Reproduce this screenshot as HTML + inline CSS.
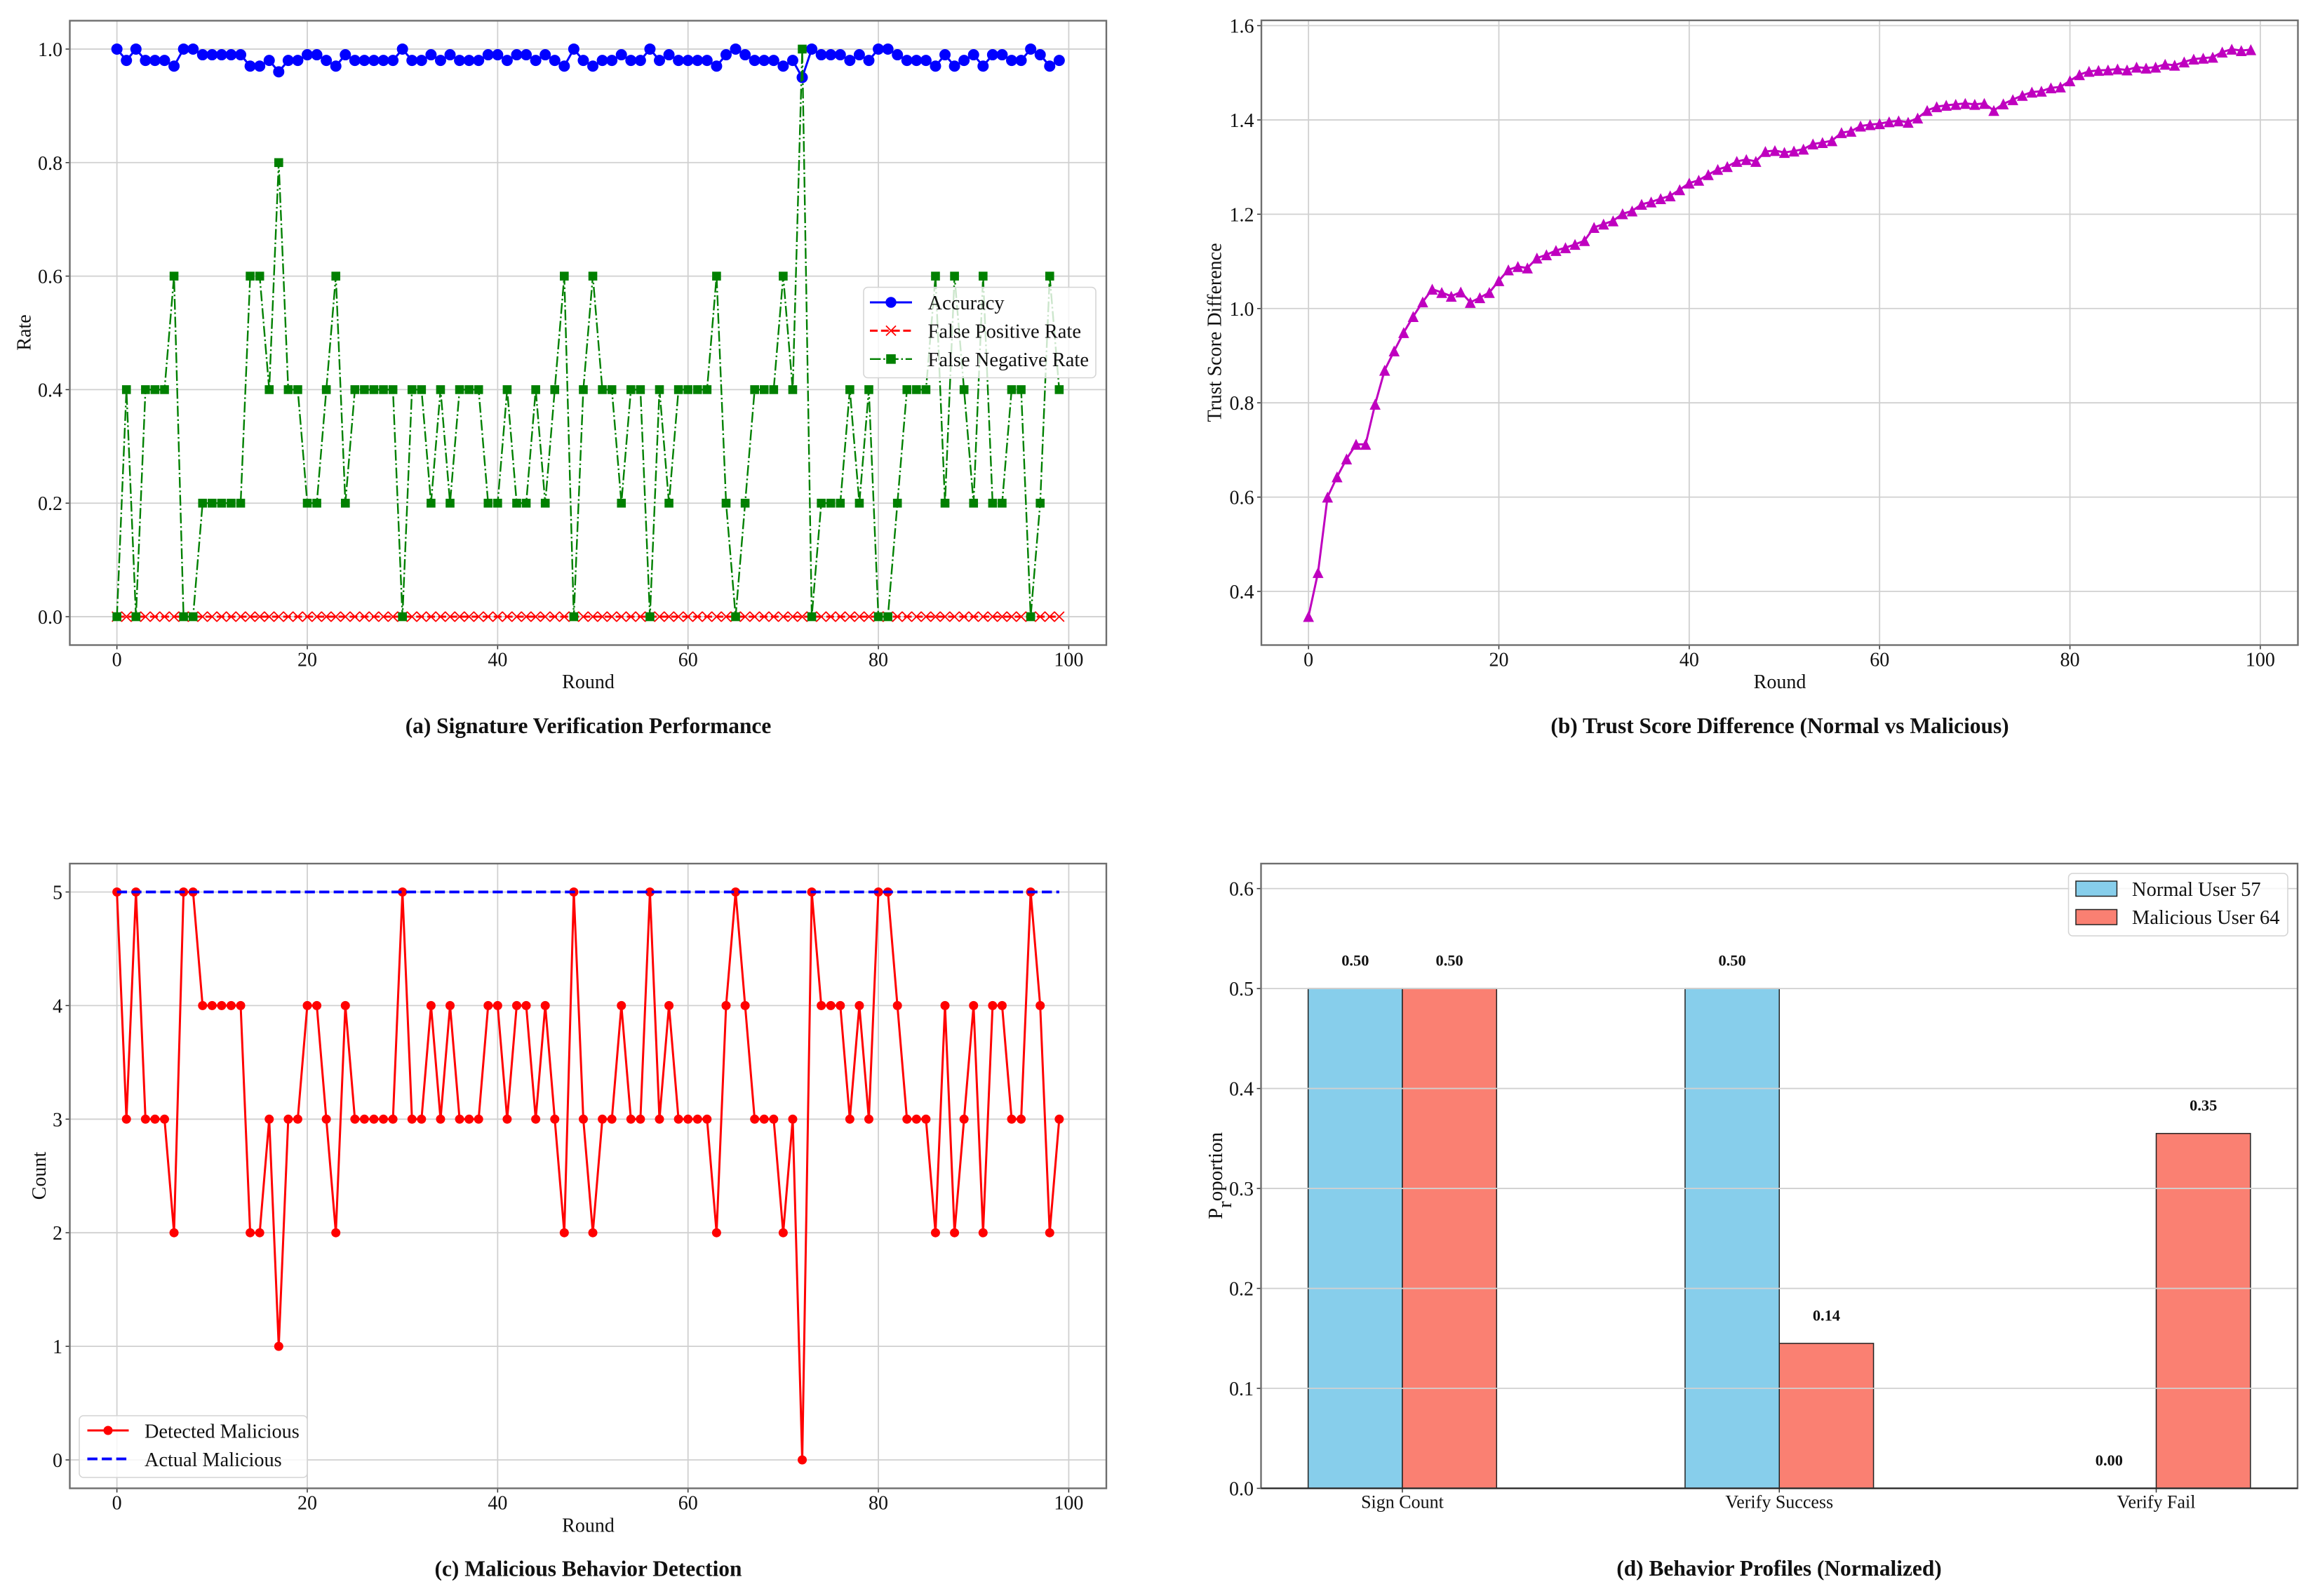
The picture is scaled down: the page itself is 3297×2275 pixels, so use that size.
<!DOCTYPE html>
<html lang="en">
<head>
<meta charset="utf-8">
<title>Signature verification and behavior charts</title>
<style>
html,body{margin:0;padding:0;background:#fff;}
svg{display:block;}
text{font-family:"Liberation Serif","Times New Roman",serif;fill:#111;}
.tick{font-size:28px;}
.lab{font-size:28px;}
.ttl{font-size:31.4px;font-weight:bold;}
.leg{font-size:28.5px;}
</style>
</head>
<body>
<svg id="fig" xmlns="http://www.w3.org/2000/svg" width="3297" height="2275" viewBox="0 0 3297 2275">
  <rect x="0" y="0" width="3297" height="2275" fill="#ffffff"/>
  <g id="panel-a"></g>
  <g id="panel-b"></g>
  <g id="panel-c"></g>
  <g id="panel-d"></g>

  <text class="lab" x="838.5" y="981" text-anchor="middle">Round</text>
  <text class="lab" text-anchor="middle" transform="translate(43.5,474) rotate(-90)">Rate</text>
  <text class="ttl" x="838.5" y="1045" text-anchor="middle">(a) Signature Verification Performance</text>

  <text class="lab" x="2537" y="981" text-anchor="middle">Round</text>
  <text class="lab" text-anchor="middle" transform="translate(1740.5,474) rotate(-90)">Trust Score Difference</text>
  <text class="ttl" x="2537" y="1045" text-anchor="middle">(b) Trust Score Difference (Normal vs Malicious)</text>

  <text class="lab" x="838.5" y="2183.5" text-anchor="middle">Round</text>
  <text class="lab" text-anchor="middle" transform="translate(65,1676) rotate(-90)">Count</text>
  <text class="ttl" x="838.5" y="2246.5" text-anchor="middle">(c) Malicious Behavior Detection</text>

  <text font-size="29" transform="translate(1742,1738) rotate(-90)">P<tspan dy="13">r</tspan><tspan dy="-13">oportion</tspan></text>
  <text class="ttl" x="2536" y="2246" text-anchor="middle">(d) Behavior Profiles (Normalized)</text>

  <g>
    <rect x="1231" y="409.5" width="331" height="129" rx="6" fill="#ffffff" fill-opacity="0.8" stroke="#d4d4d4" stroke-width="1.5"/>
    <g>
      <line x1="1240" y1="431" x2="1300" y2="431" stroke="#0000ff" stroke-width="3"/>
      <circle cx="1270" cy="431" r="7.7" fill="#0000ff"/>
      <text class="leg" x="1322.5" y="441">Accuracy</text>
    </g>
    <g>
      <line x1="1240" y1="471.4" x2="1300" y2="471.4" stroke="#ff0000" stroke-width="3" stroke-dasharray="11 4.8"/>
      <path d="M1263 464.4L1277 478.4M1263 478.4L1277 464.4" stroke="#ff0000" stroke-width="1.8" fill="none"/>
      <text class="leg" x="1322.5" y="481.5">False Positive Rate</text>
    </g>
    <g>
      <line x1="1240" y1="511.8" x2="1300" y2="511.8" stroke="#008000" stroke-width="2.4" stroke-dasharray="15.4 3.8 2.4 3.8"/>
      <rect x="1263.2" y="505" width="13.6" height="13.6" fill="#008000"/>
      <text class="leg" x="1322.5" y="522">False Negative Rate</text>
    </g>
  </g>

  <g>
    <rect x="113" y="2018" width="325" height="88" rx="6" fill="#ffffff" fill-opacity="0.8" stroke="#d4d4d4" stroke-width="1.5"/>
    <g>
      <line x1="124.5" y1="2039" x2="183.5" y2="2039" stroke="#ff0000" stroke-width="3"/>
      <circle cx="154" cy="2039" r="6.5" fill="#ff0000"/>
      <text font-size="28.3" x="206" y="2049.5">Detected Malicious</text>
    </g>
    <g>
      <line x1="124.5" y1="2079.6" x2="183.5" y2="2079.6" stroke="#0000ff" stroke-width="3.9" stroke-dasharray="14.4 6.2"/>
      <text font-size="28.3" x="206" y="2090">Actual Malicious</text>
    </g>
  </g>

  <g>
    <rect x="2948.5" y="1245" width="312.5" height="89" rx="6" fill="#ffffff" fill-opacity="0.8" stroke="#d4d4d4" stroke-width="1.5"/>
    <g>
      <rect x="2959" y="1256" width="58.5" height="21.5" fill="#87ceeb" stroke="#222" stroke-width="1.5"/>
      <text x="3039" y="1277" font-size="28.5">Normal User 57</text>
    </g>
    <g>
      <rect x="2959" y="1296.5" width="58.5" height="21.5" fill="#fa8072" stroke="#222" stroke-width="1.5"/>
      <text x="3039" y="1317" font-size="28.5">Malicious User 64</text>
    </g>
  </g>
</svg>
<script>
// ---- data ----
const accuracy = [1,.98,1,.98,.98,.98,.97,1,1,.99,.99,.99,.99,.99,.97,.97,.98,.96,.98,.98,
  .99,.99,.98,.97,.99,.98,.98,.98,.98,.98,1,.98,.98,.99,.98,.99,.98,.98,.98,.99,
  .99,.98,.99,.99,.98,.99,.98,.97,1,.98,.97,.98,.98,.99,.98,.98,1,.98,.99,.98,
  .98,.98,.98,.97,.99,1,.99,.98,.98,.98,.97,.98,.95,1,.99,.99,.99,.98,.99,.98,
  1,1,.99,.98,.98,.98,.97,.99,.97,.98,.99,.97,.99,.99,.98,.98,1,.99,.97,.98];
const falsePositive = [0,0,0,0,0,0,0,0,0,0,0,0,0,0,0,0,0,0,0,0,
  0,0,0,0,0,0,0,0,0,0,0,0,0,0,0,0,0,0,0,0,
  0,0,0,0,0,0,0,0,0,0,0,0,0,0,0,0,0,0,0,0,
  0,0,0,0,0,0,0,0,0,0,0,0,0,0,0,0,0,0,0,0,
  0,0,0,0,0,0,0,0,0,0,0,0,0,0,0,0,0,0,0,0];
const falseNegative = [0,.4,0,.4,.4,.4,.6,0,0,.2,.2,.2,.2,.2,.6,.6,.4,.8,.4,.4,
  .2,.2,.4,.6,.2,.4,.4,.4,.4,.4,0,.4,.4,.2,.4,.2,.4,.4,.4,.2,
  .2,.4,.2,.2,.4,.2,.4,.6,0,.4,.6,.4,.4,.2,.4,.4,0,.4,.2,.4,
  .4,.4,.4,.6,.2,0,.2,.4,.4,.4,.6,.4,1,0,.2,.2,.2,.4,.2,.4,
  0,0,.2,.4,.4,.4,.6,.2,.6,.4,.2,.6,.2,.2,.4,.4,0,.2,.6,.4];
const trustDiff = [.347,.44,.6,.643,.681,.712,.712,.797,.869,.91,.949,.983,1.014,1.041,1.034,1.026,1.035,1.013,1.023,1.034,
  1.059,1.082,1.089,1.086,1.107,1.114,1.123,1.129,1.136,1.144,1.172,1.179,1.186,1.201,1.207,1.221,1.226,1.233,1.239,1.252,
  1.266,1.272,1.284,1.295,1.301,1.312,1.316,1.312,1.333,1.335,1.331,1.334,1.338,1.349,1.352,1.356,1.373,1.376,1.387,1.39,
  1.392,1.396,1.398,1.395,1.404,1.42,1.428,1.431,1.433,1.435,1.433,1.435,1.42,1.434,1.443,1.452,1.459,1.461,1.468,1.47,
  1.483,1.496,1.503,1.505,1.506,1.508,1.506,1.512,1.51,1.512,1.518,1.516,1.523,1.529,1.531,1.533,1.544,1.55,1.547,1.549];
const detected = [5,3,5,3,3,3,2,5,5,4,4,4,4,4,2,2,3,1,3,3,
  4,4,3,2,4,3,3,3,3,3,5,3,3,4,3,4,3,3,3,4,
  4,3,4,4,3,4,3,2,5,3,2,3,3,4,3,3,5,3,4,3,
  3,3,3,2,4,5,4,3,3,3,2,3,0,5,4,4,4,3,4,3,
  5,5,4,3,3,3,2,4,2,3,4,2,4,4,3,3,5,4,2,3];
const actual = [5,5,5,5,5,5,5,5,5,5,5,5,5,5,5,5,5,5,5,5,
  5,5,5,5,5,5,5,5,5,5,5,5,5,5,5,5,5,5,5,5,
  5,5,5,5,5,5,5,5,5,5,5,5,5,5,5,5,5,5,5,5,
  5,5,5,5,5,5,5,5,5,5,5,5,5,5,5,5,5,5,5,5,
  5,5,5,5,5,5,5,5,5,5,5,5,5,5,5,5,5,5,5,5];
const categories = ['Sign Count','Verify Success','Verify Fail'];
const normalProfile = [0.5,0.5,0];
const maliciousProfile = [0.5,0.145,0.355];
const normalLabels = ['0.50','0.50','0.00'];
const maliciousLabels = ['0.50','0.14','0.35'];
const roundTicks = ['0','20','40','60','80','100'];
const rateTicks = ['0.0','0.2','0.4','0.6','0.8','1.0'];
const trustTicks = ['0.4','0.6','0.8','1.0','1.2','1.4','1.6'];
const countTicks = ['0','1','2','3','4','5'];
const proportionTicks = ['0.0','0.1','0.2','0.3','0.4','0.5','0.6'];

const NS = 'http://www.w3.org/2000/svg';
function mk(parent, tag, name, attrs) {
  const el = document.createElementNS(NS, tag);
  
  
  for (const k in attrs) el.setAttribute(k, attrs[k]);
  parent.appendChild(el);
  return el;
}
function linear(d0, d1, r0, r1) {
  return v => r0 + (v - d0) * (r1 - r0) / (d1 - d0);
}
const GRID = '#d0d0d0', SPINE = '#6e6e6e';

function frame(g, box) {
  mk(g, 'rect', 'plot-frame', {x: box.l, y: box.t, width: box.r - box.l, height: box.b - box.t, fill: 'none', stroke: SPINE, 'stroke-width': 2.4});
}
function xAxis(g, box, x, ticks, grid) {
  ticks.forEach(t => {
    const px = x(parseFloat(t));
    if (grid) mk(g, 'line', 'x-gridline-' + t, {x1: px, x2: px, y1: box.t, y2: box.b, stroke: GRID, 'stroke-width': 1.8});
    mk(g, 'line', 'x-tick-' + t, {x1: px, x2: px, y1: box.b, y2: box.b + 6, stroke: '#333', 'stroke-width': 1.5});
    const lab = mk(g, 'text', 'x-tick-label-' + t, {x: px, y: box.b + 30, 'text-anchor': 'middle', class: 'tick'});
    lab.textContent = t;
  });
}
function yAxis(g, box, y, ticks, grid) {
  ticks.forEach(t => {
    const py = y(parseFloat(t));
    if (grid) mk(g, 'line', 'y-gridline-' + t, {x1: box.l, x2: box.r, y1: py, y2: py, stroke: GRID, 'stroke-width': 1.8});
    mk(g, 'line', 'y-tick-' + t, {x1: box.l - 6, x2: box.l, y1: py, y2: py, stroke: '#333', 'stroke-width': 1.5});
    const lab = mk(g, 'text', 'y-tick-label-' + t, {x: box.l - 10.5, y: py + 10, 'text-anchor': 'end', class: 'tick'});
    lab.textContent = t;
  });
}
function seriesLine(g, name, vals, x, y, style) {
  const pts = vals.map((v, i) => x(i).toFixed(2) + ',' + y(v).toFixed(2)).join(' ');
  const attrs = {points: pts, fill: 'none', 'stroke-linejoin': 'round'};
  for (const k in style) attrs[k] = style[k];
  mk(g, 'polyline', name + '-line', attrs);
}
function circles(g, name, vals, x, y, r, color) {
  vals.forEach((v, i) => mk(g, 'circle', name + '-point-' + i, {cx: x(i), cy: y(v), r: r, fill: color}));
}
function squares(g, name, vals, x, y, s, color) {
  vals.forEach((v, i) => mk(g, 'rect', name + '-point-' + i, {x: x(i) - s / 2, y: y(v) - s / 2, width: s, height: s, fill: color}));
}
function crosses(g, name, vals, x, y, h, color) {
  vals.forEach((v, i) => {
    const cx = x(i), cy = y(v);
    mk(g, 'path', name + '-point-' + i, {d: `M${cx - h} ${cy - h}L${cx + h} ${cy + h}M${cx - h} ${cy + h}L${cx + h} ${cy - h}`, stroke: color, 'stroke-width': 1.8, fill: 'none'});
  });
}
function triangles(g, name, vals, x, y, h, color) {
  vals.forEach((v, i) => {
    const cx = x(i), cy = y(v);
    mk(g, 'path', name + '-point-' + i, {d: `M${cx} ${cy - h}L${cx - h} ${cy + h}L${cx + h} ${cy + h}Z`, fill: color});
  });
}

// ---- panel a ----
(function () {
  const g = document.getElementById('panel-a');
  const box = {l: 99.5, r: 1577, t: 29.5, b: 919.5};
  const x = linear(-4.95, 103.95, box.l, box.r);
  const y = linear(-0.05, 1.05, box.b, box.t);
  xAxis(g, box, x, roundTicks, true);
  yAxis(g, box, y, rateTicks, true);
  seriesLine(g, 'accuracy', accuracy, x, y, {stroke: '#0000ff', 'stroke-width': 3});
  circles(g, 'accuracy', accuracy, x, y, 8, '#0000ff');
  seriesLine(g, 'false-positive', falsePositive, x, y, {stroke: '#ff0000', 'stroke-width': 3, 'stroke-dasharray': '11 4.8'});
  crosses(g, 'false-positive', falsePositive, x, y, 7, '#ff0000');
  seriesLine(g, 'false-negative', falseNegative, x, y, {stroke: '#008000', 'stroke-width': 2.4, 'stroke-dasharray': '15.4 3.8 2.4 3.8'});
  squares(g, 'false-negative', falseNegative, x, y, 12.6, '#008000');
  frame(g, box);
})();

// ---- panel b ----
(function () {
  const g = document.getElementById('panel-b');
  const box = {l: 1798, r: 3275.5, t: 29, b: 919.5};
  const x = linear(-4.95, 103.95, box.l, box.r);
  const y = linear(0.2862, 1.6112, box.b, box.t);
  xAxis(g, box, x, roundTicks, true);
  yAxis(g, box, y, trustTicks, true);
  seriesLine(g, 'trust-difference', trustDiff, x, y, {stroke: '#bf00bf', 'stroke-width': 3});
  triangles(g, 'trust-difference', trustDiff, x, y, 7.8, '#bf00bf');
  frame(g, box);
})();

// ---- panel c ----
(function () {
  const g = document.getElementById('panel-c');
  const box = {l: 99.5, r: 1577, t: 1231, b: 2121.5};
  const x = linear(-4.95, 103.95, box.l, box.r);
  const y = linear(-0.25, 5.25, box.b, box.t);
  xAxis(g, box, x, roundTicks, true);
  yAxis(g, box, y, countTicks, true);
  seriesLine(g, 'detected', detected, x, y, {stroke: '#ff0000', 'stroke-width': 3});
  circles(g, 'detected', detected, x, y, 6.5, '#ff0000');
  seriesLine(g, 'actual', actual, x, y, {stroke: '#0000ff', 'stroke-width': 3.9, 'stroke-dasharray': '14.4 6.2'});
  frame(g, box);
})();

// ---- panel d ----
(function () {
  const g = document.getElementById('panel-d');
  const box = {l: 1797.5, r: 3275, t: 1231, b: 2121.5};
  const x = linear(-0.375, 2.375, box.l, box.r);
  const y = linear(0, 0.625, box.b, box.t);
  const bw = x(0.25) - x(0);
  categories.forEach((c, i) => {
    const h1 = y(normalProfile[i]), h2 = y(maliciousProfile[i]);
    mk(g, 'rect', 'bar-normal-' + i, {x: x(i) - bw, y: h1, width: bw, height: box.b - h1, fill: '#87ceeb', stroke: '#222', 'stroke-width': 1.5});
    mk(g, 'rect', 'bar-malicious-' + i, {x: x(i), y: h2, width: bw, height: box.b - h2, fill: '#fa8072', stroke: '#222', 'stroke-width': 1.5});
    const l1 = mk(g, 'text', 'bar-value-normal-' + i, {x: x(i) - bw / 2, y: h1 - 32.5, 'text-anchor': 'middle', 'font-size': 22.4, 'font-weight': 'bold'});
    l1.textContent = normalLabels[i];
    const l2 = mk(g, 'text', 'bar-value-malicious-' + i, {x: x(i) + bw / 2, y: h2 - 32.5, 'text-anchor': 'middle', 'font-size': 22.4, 'font-weight': 'bold'});
    l2.textContent = maliciousLabels[i];
    mk(g, 'line', 'x-tick-' + i, {x1: x(i), x2: x(i), y1: box.b, y2: box.b + 6, stroke: '#333', 'stroke-width': 1.5});
    const lab = mk(g, 'text', 'x-tick-label-' + i, {x: x(i), y: 2149.5, 'text-anchor': 'middle', 'font-size': 26});
    lab.textContent = c;
  });
  yAxis(g, box, y, proportionTicks, true);
  frame(g, box);
  mk(g, 'line', 'x-axis-baseline', {x1: box.l, x2: box.r, y1: box.b, y2: box.b, stroke: '#222', 'stroke-width': 2});
})();
</script>
</body>
</html>
